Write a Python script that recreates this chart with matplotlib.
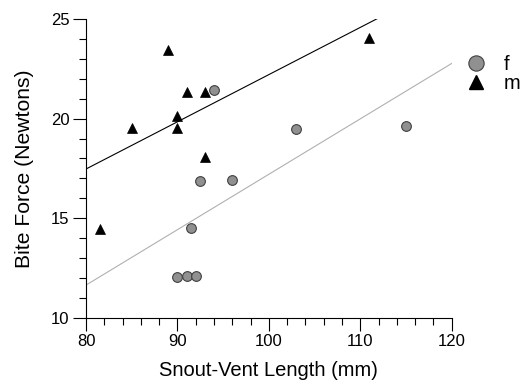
import numpy as np
import matplotlib.pyplot as plt
from matplotlib.ticker import MultipleLocator
from matplotlib.lines import Line2D

plt.rcParams['font.family'] = ['Liberation Sans', 'DejaVu Sans']

# females (f)
svl_f = [94, 92.5, 96, 91.5, 90, 91, 92, 103, 115]
bite_f = [21.45, 16.85, 16.9, 14.5, 12.05, 12.1, 12.1, 19.5, 19.65]

# males (m)
svl_m = [81.5, 85, 89, 90, 90, 91, 93, 93, 111]
bite_m = [14.45, 19.55, 23.45, 20.15, 19.55, 21.35, 21.35, 18.05, 24.05]

# regression lines, endpoints
line_x = [80, 120]
line_f = [11.64, 22.77]
line_m = [17.47, 26.95]

fig = plt.figure(figsize=(5.32, 3.81), dpi=100)
ax = fig.add_axes([0.1617, 0.166, 0.6873, 0.784])

ax.plot(line_x, line_m, '-', color='black', lw=0.8)
ax.plot(line_x, line_f, '-', color='#b0b0b0', lw=0.8)

ax.plot(svl_f, bite_f, 'o', ms=7, mfc='#909090', mec='#404040', mew=0.8, clip_on=False)
ax.plot(svl_m, bite_m, '^', ms=6.5, mfc='black', mec='black', mew=0.5, clip_on=False)

ax.set_xlim(80, 120)
ax.set_ylim(10, 25)
ax.xaxis.set_major_locator(MultipleLocator(10))
ax.xaxis.set_minor_locator(MultipleLocator(2))
ax.yaxis.set_major_locator(MultipleLocator(5))
ax.yaxis.set_minor_locator(MultipleLocator(1))
for s in ['top', 'right']:
    ax.spines[s].set_visible(False)
for s in ['left', 'bottom']:
    ax.spines[s].set_linewidth(0.8)
ax.tick_params(which='major', direction='out', length=9.5, width=0.8, labelsize=12, pad=2.5)
ax.tick_params(which='minor', direction='out', length=5, width=0.8)
ax.set_xlabel('Snout-Vent Length (mm)', fontsize=14.5, labelpad=8)
ax.set_ylabel('Bite Force (Newtons)', fontsize=15.2, labelpad=12)

handles = [
    Line2D([], [], ls='none', marker='o', ms=11, mfc='#909090', mec='#404040', mew=0.8),
    Line2D([], [], ls='none', marker='^', ms=10, mfc='black', mec='black'),
]
fig.legend(handles, ['f', 'm'], loc='upper left', bbox_to_anchor=(0.875, 0.855),
           frameon=False, fontsize=14.5, handletextpad=0.9, handlelength=1.0,
           labelspacing=0.0, borderaxespad=0, borderpad=0)

fig.savefig('out.png', dpi=100)
